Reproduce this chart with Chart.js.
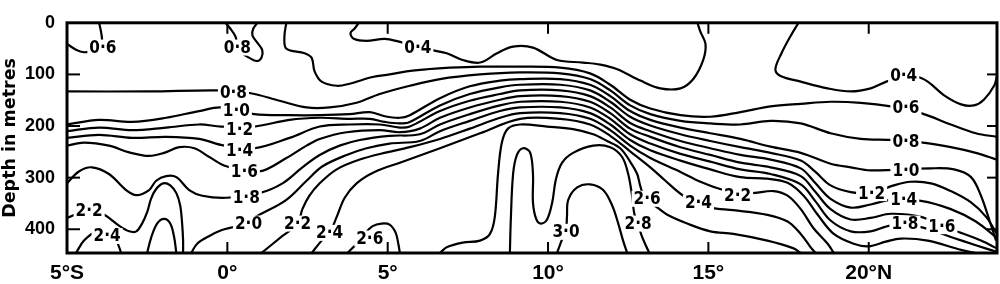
<!DOCTYPE html>
<html><head><meta charset="utf-8">
<script src="https://cdn.jsdelivr.net/npm/chart.js@4.4.1/dist/chart.umd.min.js"></script>
<style>html,body{margin:0;padding:0;background:#fff}#wrap{width:1000px;height:284px}</style>
</head><body><div id="wrap"><canvas id="c" width="1000" height="284"></canvas></div>
<script>
// Axis ticks
const xTickValues = [-5, 0, 5, 10, 15, 20];
const xTickLabels = ['5°S', '0°', '5°', '10°', '15°', '20°N'];
const yTickValues = [0, 100, 200, 300, 400];

// Contour lines: [latitude (deg, N positive), depth (m)]
const c04a = [[4.1,0],[3.97,11],[3.84,20],[3.94,31],[4.34,35],[4.91,31],[5.38,37],[6.38,53],[6.84,59],[7.34,72],[7.88,77],[8.41,59],[8.91,46],[9.53,48],[10.28,72],[11.09,77],[11.63,81],[12.16,90],[12.88,112],[13.5,127],[14.13,127],[14.53,109],[14.84,72],[14.91,41],[14.75,17],[14.66,0]];
const c04b = [[17.81,0],[17.56,26],[17.28,59],[17.09,90],[17.25,103],[17.88,114],[18.72,127],[19.44,133],[20.06,127],[20.69,111],[21.5,105],[21.84,114],[22.34,140],[22.88,158],[23.28,160],[23.59,149],[23.91,122],[24,103]];
const c06a = [[-4,0],[-3.94,17],[-3.91,35],[-4,50],[-4.25,55],[-4.47,57],[-4.72,52],[-5,41]];
const c06b = [[1.84,0],[1.78,26],[1.84,50],[2.41,59],[2.63,68],[2.72,94],[2.94,114],[3.41,122],[3.81,118],[4.53,105],[5.06,100],[5.59,94],[6.22,90],[6.94,87],[7.88,85],[9.13,85],[10.38,87],[11.31,98],[11.94,120],[12.56,149],[13.19,166],[14.13,179],[15.06,182],[16,173],[16.94,162],[17.88,157],[18.81,153],[19.75,155],[20.69,162],[21.63,175],[22.56,197],[23.34,214],[24,221]];
const c08a = [[-0.06,0],[0.09,11],[0.25,26],[0.31,41],[0.47,59],[0.69,68],[0.91,74],[1.06,68],[1.09,53],[0.94,39],[0.78,24],[0.81,11],[0.94,0]];
const c08b = [[-5,133],[-2.44,133],[-0.25,131],[0.69,136],[1.63,151],[2.47,164],[3.19,164],[4.03,155],[4.75,138],[5.69,122],[6.63,109],[7.88,100],[9.13,96],[10.38,98],[11.31,109],[11.94,131],[12.56,160],[13.19,177],[14.13,190],[15.06,195],[16,197],[16.94,190],[17.88,195],[18.81,214],[19.75,225],[20.69,227],[21.69,232],[22.56,241],[23.34,252],[24,265]];
const c10 = [[-5,197],[-4,188],[-2.97,192],[-1.91,184],[-0.88,171],[-0.19,164],[0.84,177],[1.94,179],[2.88,179],[3.81,177],[4.44,173],[4.91,181],[5.38,184],[5.69,179],[6.63,146],[7.56,123],[8.5,112],[9.13,109],[10.38,109],[11.31,120],[11.94,142],[12.56,171],[13.19,188],[14.13,203],[15.06,214],[16,225],[16.94,240],[17.88,252],[18.81,273],[19.44,280],[20.06,286],[21.94,282],[22.66,284],[23.19,299],[23.5,335],[23.75,380],[23.97,422]];
const c12 = [[-5,210],[-4,203],[-2.97,208],[-1.91,203],[-0.88,197],[-0.19,201],[0.84,201],[1.94,188],[2.88,184],[3.81,186],[4.44,186],[4.91,192],[5.38,195],[5.69,192],[6.63,160],[7.56,138],[8.5,125],[9.13,120],[10.38,120],[11.31,131],[11.94,153],[12.56,182],[13.19,199],[14.13,216],[15.06,229],[16,241],[16.94,252],[17.88,267],[18.34,289],[18.81,315],[19.44,328],[20.09,330],[20.78,315],[21.31,308],[21.94,311],[22.56,326],[23.19,348],[23.66,376],[24,409]];
const c14 = [[-5,223],[-4,217],[-2.97,223],[-1.91,221],[-0.88,225],[-0.09,238],[0.84,243],[1.94,223],[2.88,201],[3.81,197],[4.75,197],[5.38,203],[5.69,201],[6.63,171],[7.56,151],[8.5,138],[9.13,131],[10.38,131],[11.31,142],[11.94,164],[12.56,194],[13.19,210],[14.13,229],[15.06,243],[16,256],[16.94,265],[17.88,282],[18.34,311],[18.81,341],[19.44,358],[20.06,352],[20.69,343],[21.63,345],[22.56,361],[23.34,385],[24,417]];
const c16 = [[-5,238],[-4.47,232],[-3.69,238],[-3.06,251],[-2.44,258],[-1.97,252],[-1.5,241],[-1.03,243],[-0.56,260],[-0.03,278],[1,288],[1.84,262],[2.47,238],[2.88,225],[3.72,212],[4.75,208],[5.38,212],[6,205],[6.63,184],[7.56,164],[8.5,149],[9.13,142],[10.38,142],[11.31,153],[11.94,175],[12.56,205],[13.19,221],[14.13,241],[15.06,256],[16,271],[16.94,280],[17.88,297],[18.34,328],[18.81,361],[19.44,381],[20.06,378],[20.69,370],[21.63,376],[22.28,394],[22.88,407],[23.5,422],[24,437]];
const c18 = [[-5,311],[-4.63,288],[-4.22,280],[-3.69,293],[-3.16,324],[-2.84,334],[-2.44,324],[-2.22,306],[-1.91,297],[-1.59,299],[-1.19,324],[-0.78,335],[-0.03,339],[1,330],[1.72,311],[2.34,280],[2.88,256],[3.5,238],[4.13,227],[5.06,219],[6,216],[6.63,197],[7.56,177],[8.5,160],[9.13,153],[10.38,153],[11.31,164],[11.94,186],[12.56,216],[13.19,234],[14.13,254],[15.06,269],[16,284],[16.94,293],[17.88,313],[18.34,346],[18.81,383],[19.44,404],[20.06,404],[20.69,393],[21.63,396],[22.56,415],[23.34,431],[24,444]];
const c20 = [[-1.13,446],[-0.94,428],[-0.56,413],[-0.19,402],[0.31,393],[1.06,370],[1.84,343],[2.47,306],[2.97,278],[3.72,256],[4.34,243],[5.06,234],[6,229],[6.63,210],[7.56,190],[8.5,171],[9.13,164],[10.38,164],[11.31,175],[11.94,197],[12.56,227],[13.19,247],[14.13,267],[15.06,284],[16,299],[16.84,302],[17.47,310],[17.97,335],[18.41,372],[18.91,409],[19.53,428],[20,433],[20.53,424],[21,418],[21.84,422],[22.88,440],[23.34,446]];
const c22a = [[-5,378],[-4.31,363],[-3.84,372],[-3.38,393],[-3.06,404],[-2.84,404],[-2.66,389],[-2.5,367],[-2.38,341],[-2.22,322],[-2,311],[-1.78,315],[-1.59,330],[-1.47,354],[-1.41,389],[-1.38,422],[-1.38,446]];
const c22b = [[1.06,446],[1.72,413],[2.19,389],[2.34,361],[2.56,335],[2.88,311],[3.41,284],[4.13,265],[4.97,251],[5.69,241],[6.63,225],[7.56,205],[8.5,184],[9.13,175],[10.38,175],[11.31,186],[11.94,208],[12.56,238],[13.19,262],[14.13,289],[14.75,308],[15.47,324],[16.31,330],[17.03,326],[17.47,335],[17.88,361],[18.28,398],[18.72,428],[18.91,446]];
const c24a = [[-4.72,446],[-4.47,422],[-4.09,405],[-3.75,413],[-3.47,422],[-3.31,446]];
const c24b = [[2.63,446],[2.94,422],[3.19,407],[3.41,376],[3.66,339],[4.03,311],[4.59,289],[5.38,271],[6.63,243],[7.88,214],[9.13,186],[10.38,186],[11.31,197],[11.94,219],[12.56,249],[13.19,280],[13.66,306],[14.22,335],[14.69,348],[15.06,358],[15.78,363],[16.84,372],[17.47,385],[17.88,409],[18.19,435],[18.34,446]];
const c24c = [[-2.5,446],[-2.38,417],[-2.19,389],[-1.97,380],[-1.78,389],[-1.66,415],[-1.59,446]];
const c26a = [[3.75,446],[4.03,428],[4.28,409],[4.53,394],[4.81,389],[5.06,391],[5.25,407],[5.34,431],[5.38,446]];
const c26b = [[6.63,446],[6.84,435],[7.34,426],[7.88,422],[8.19,409],[8.34,376],[8.44,293],[8.56,232],[8.75,205],[9.13,197],[9.97,201],[10.78,206],[11.41,216],[11.84,229],[12.25,243],[12.56,269],[12.78,293],[12.88,317],[13.03,341],[13.41,358],[13.72,372],[14.34,389],[15.06,404],[15.78,409],[16.84,422],[17.66,437],[17.88,446]];
const c28 = [[8.81,446],[8.84,380],[8.91,293],[9.03,256],[9.22,243],[9.44,251],[9.53,293],[9.53,348],[9.63,380],[9.78,389],[9.97,381],[10.13,348],[10.25,302],[10.44,271],[10.78,252],[11.41,238],[11.94,241],[12.31,260],[12.5,293],[12.63,339],[12.69,370],[12.81,389],[12.91,411],[13.06,433],[13.16,446]];
const c30 = [[10.28,446],[10.41,424],[10.56,400],[10.59,376],[10.63,343],[10.91,319],[11.31,313],[11.72,324],[12,354],[12.19,389],[12.34,422],[12.47,446]];

const contours = [c04a,c04b,c06a,c06b,c08a,c08b,c10,c12,c14,c16,c18,c20,c22a,c22b,c24a,c24b,c24c,c26a,c26b,c28,c30];

// Contour labels: text, latitude, depth
const labelTexts = ['0·6','0·8','0·4','0·8','1·0','1·2','1·4','1·6','1·8','2·0','2·2','2·4','2·2','2·4','2·6','3·0','2·8','2·6','2·4','2·2','0·4','0·6','0·8','1·0','1·2','1·4','1·8','1·6'];
const labelLats  = [-3.88,0.31,5.94,0.19,0.28,0.38,0.38,0.53,0.59,0.66,-4.31,-3.75,2.19,3.19,4.44,10.56,12.81,13.09,14.69,15.91,21.09,21.16,21.16,21.16,20.09,21.09,21.13,22.28];
const labelDepths= [48,48,48,136,170,206,247,289,339,389,363,413,389,407,418,405,389,341,348,334,103,164,230,286,330,343,389,394];

const overlay = {
  id: 'overlay',
  afterDatasetsDraw(chart) {
    const {ctx, chartArea: a, scales: {x, y}} = chart;
    ctx.save();
    ctx.font = 'bold 17px "Liberation Sans Narrow", "DejaVu Sans Condensed", sans-serif';
    ctx.textAlign = 'center';
    ctx.textBaseline = 'middle';
    labelTexts.forEach((t, i) => {
      const px = x.getPixelForValue(labelLats[i]);
      const py = y.getPixelForValue(labelDepths[i]);
      const w = ctx.measureText(t).width + 4;
      ctx.fillStyle = '#fff';
      ctx.fillRect(px - w / 2, py - 8, w, 16);
      ctx.fillStyle = '#000';
      ctx.fillText(t, px, py + 1);
    });
    ctx.strokeStyle = '#000';
    ctx.lineWidth = 3;
    ctx.strokeRect(a.left, a.top, a.right - a.left, a.bottom - a.top);
    ctx.lineWidth = 2;
    const seg = (x1, y1, x2, y2) => { ctx.beginPath(); ctx.moveTo(x1, y1); ctx.lineTo(x2, y2); ctx.stroke(); };
    x.ticks.forEach(t => {
      if (t.value <= x.min) return;
      const px = x.getPixelForValue(t.value);
      seg(px, a.bottom, px, a.bottom - 11);
      seg(px, a.top, px, a.top + 11);
    });
    y.ticks.forEach(t => {
      if (t.value <= y.min) return;
      const py = y.getPixelForValue(t.value);
      seg(a.left, py, a.left + 13, py);
      seg(a.right, py, a.right - 10, py);
    });
    ctx.restore();
  }
};

new Chart(document.getElementById('c'), {
  type: 'scatter',
  data: {
    datasets: contours.map(c => ({
      data: c.map(p => ({x: p[0], y: p[1]})),
      showLine: true, borderColor: '#000', borderWidth: 2.2,
      pointRadius: 0, tension: 0.35, fill: false
    }))
  },
  options: {
    responsive: false, animation: false, devicePixelRatio: 1,
    layout: {padding: {top: 11, right: 3, left: 0, bottom: 0}},
    plugins: {legend: {display: false}, tooltip: {enabled: false}},
    scales: {
      x: {
        type: 'linear', min: -5, max: 24,
        grid: {display: false, drawTicks: false}, border: {display: false},
        afterBuildTicks: s => { s.ticks = xTickValues.map(v => ({value: v})); },
        afterFit: s => { s.height = 31; },
        ticks: {
          autoSkip: false, maxRotation: 0, padding: 8, color: '#000',
          font: {family: '"Liberation Sans Narrow", sans-serif', size: 21, weight: 'bold'},
          callback: (v, i) => xTickLabels[i]
        }
      },
      y: {
        type: 'linear', reverse: true, min: 0, max: 446,
        grid: {display: false, drawTicks: false}, border: {display: false},
        afterBuildTicks: s => { s.ticks = yTickValues.map(v => ({value: v})); },
        afterFit: s => { s.width = 67; },
        ticks: {
          padding: 12, color: '#000',
          font: {family: '"Liberation Sans Narrow", sans-serif', size: 18, weight: 'bold'},
          callback: v => String(v)
        },
        title: {
          display: true, text: 'Depth in metres', color: '#000', padding: {top: 0, bottom: 2},
          font: {family: '"DejaVu Sans", sans-serif', size: 17.5, weight: 'bold'}
        }
      }
    }
  },
  plugins: [overlay]
});
</script>
</body></html>
